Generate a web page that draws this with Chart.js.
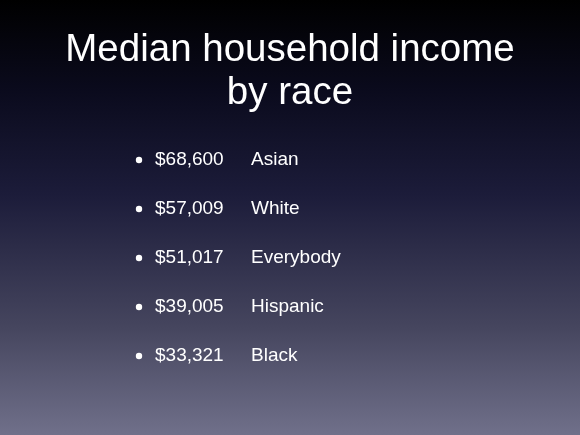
<!DOCTYPE html>
<html><head><meta charset="utf-8">
<script src="https://cdn.jsdelivr.net/npm/chart.js@4"></script>
<style>
html,body{margin:0;padding:0;width:580px;height:435px;overflow:hidden;}
body{background:linear-gradient(to bottom,#000 0%,#0a0a1c 20%,#1c1c3a 45%,#45455e 75%,#70708a 100%);position:relative;font-family:"Liberation Sans",Arial,sans-serif;}
#title{position:absolute;left:0;top:26px;width:580px;text-align:center;color:#fff;font-size:38.5px;line-height:43px;}
#wrap{position:absolute;left:0;top:0;width:580px;height:435px;}
</style></head><body>
<div id="wrap"><canvas id="c"></canvas></div>
<div id="title">Median household income<br>by race</div>
<script>
const categories = ["Asian","White","Everybody","Hispanic","Black"];
const incomes = [68600,57009,51017,39005,33321];
const incomeLabels = ["$68,600","$57,009","$51,017","$39,005","$33,321"];

const listPlugin = {
  id:'list',
  afterDraw(chart){
    const ctx = chart.ctx, y = chart.scales.y;
    ctx.save();
    ctx.fillStyle = '#fff';
    ctx.font = '19px "Liberation Sans", Arial, sans-serif';
    ctx.textBaseline = 'middle';
    categories.forEach((c,i)=>{
      const py = y.getPixelForValue(i);
      ctx.beginPath(); ctx.arc(139,py,3.2,0,Math.PI*2); ctx.fill();
      ctx.textAlign='left';
      ctx.fillText(incomeLabels[i],155,py);
      ctx.fillText(c,251,py);
    });
    ctx.restore();
  }
};
new Chart(document.getElementById('c'),{
  type:'scatter',
  data:{datasets:[{data:incomes.map((v,i)=>({x:v,y:i})),pointRadius:0}]},
  options:{
    responsive:true,maintainAspectRatio:false,animation:false,
    layout:{padding:0},
    plugins:{legend:{display:false},tooltip:{enabled:false}},
    scales:{
      x:{display:false,min:0,max:80000},
      y:{display:false,reverse:true,min:-3.265,max:5.612}
    }
  },
  plugins:[listPlugin]
});
</script></body></html>
